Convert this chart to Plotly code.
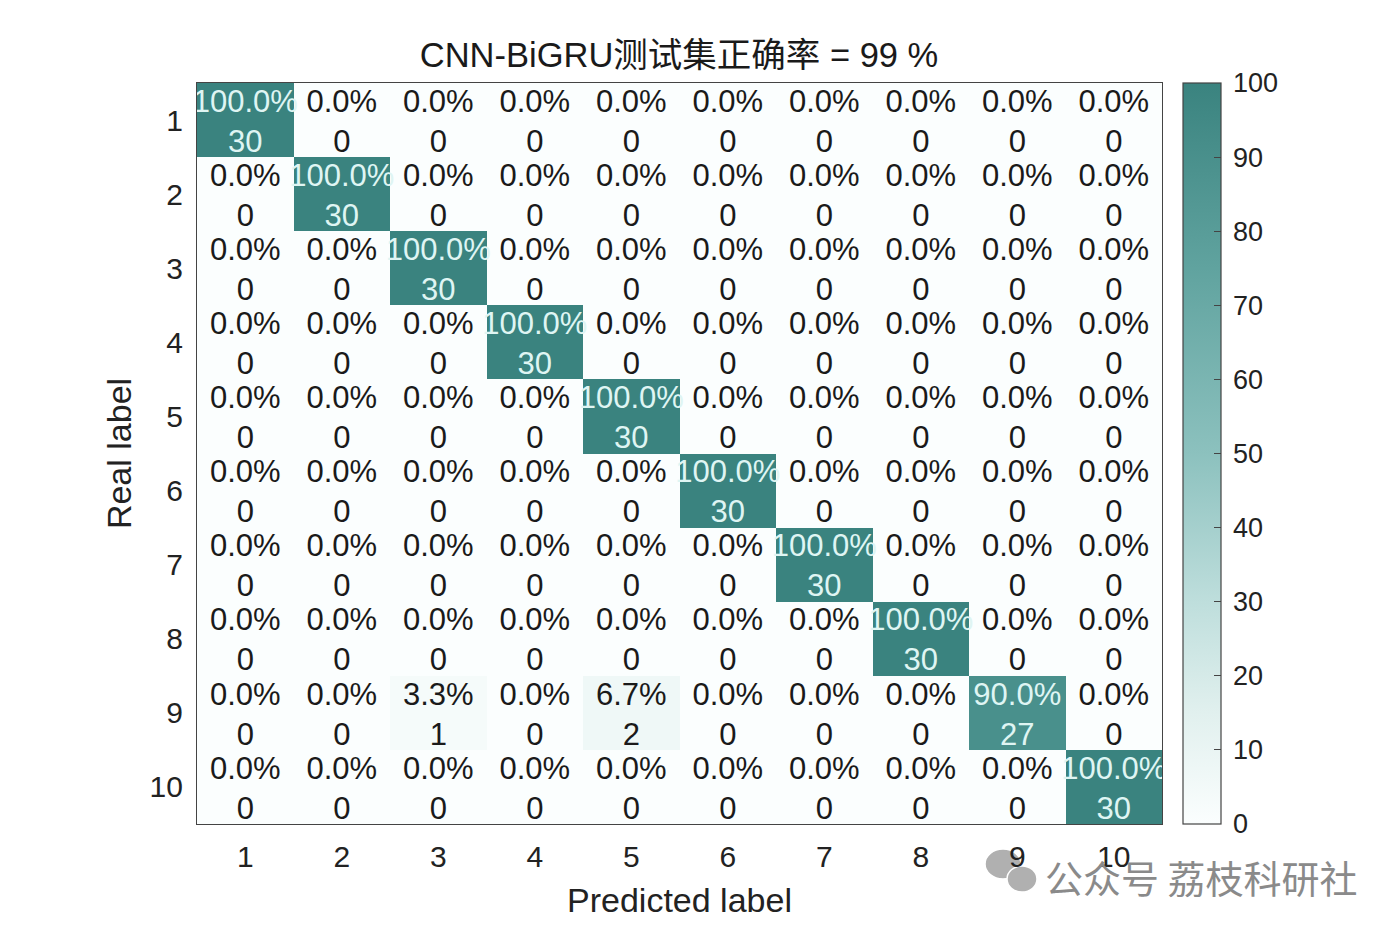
import plotly.graph_objects as go
import numpy as np

title = "CNN-BiGRU测试集正确率 = 99 %"
labels = [str(i) for i in range(1, 11)]
counts = [
    [30, 0, 0, 0, 0, 0, 0, 0, 0, 0],
    [0, 30, 0, 0, 0, 0, 0, 0, 0, 0],
    [0, 0, 30, 0, 0, 0, 0, 0, 0, 0],
    [0, 0, 0, 30, 0, 0, 0, 0, 0, 0],
    [0, 0, 0, 0, 30, 0, 0, 0, 0, 0],
    [0, 0, 0, 0, 0, 30, 0, 0, 0, 0],
    [0, 0, 0, 0, 0, 0, 30, 0, 0, 0],
    [0, 0, 0, 0, 0, 0, 0, 30, 0, 0],
    [0, 0, 1, 0, 2, 0, 0, 0, 27, 0],
    [0, 0, 0, 0, 0, 0, 0, 0, 0, 30],
]
cb_ticks = [0, 10, 20, 30, 40, 50, 60, 70, 80, 90, 100]

C = np.array(counts, dtype=float)
P = C / C.sum(axis=1, keepdims=True) * 100

colorscale = [
    [0.0, "rgb(251,254,254)"],
    [0.15, "rgb(225,240,238)"],
    [0.3, "rgb(190,222,220)"],
    [0.5, "rgb(140,193,190)"],
    [0.75, "rgb(96,163,159)"],
    [1.0, "rgb(58,131,127)"],
]

# page offset of 8px (body margin) taken into account
OFF = 8
L, R, T, B = 197 - OFF, 1394 - 1162 + OFF, 83 - OFF, 950 - 824 + OFF
PW, PH = 1162 - 197, 824 - 83

def px_x(x):
    return (x - 197) / PW

def px_y(y):
    return (824 - y) / PH

FONT = "Liberation Sans, Arial, Noto Sans CJK SC, sans-serif"
fig = go.Figure()
fig.add_trace(go.Heatmap(
    z=P, x=list(range(1, 11)), y=list(range(1, 11)),
    zmin=0, zmax=100, colorscale=colorscale, showscale=True, hoverinfo="skip",
    colorbar=dict(
        x=px_x(1183), xanchor="left", xpad=0, y=0.5, yanchor="middle", len=1.0, lenmode="fraction",
        thickness=38, thicknessmode="pixels", ypad=0,
        tickvals=cb_ticks, ticktext=["\u2009" + str(t) for t in cb_ticks],
        ticks="inside", ticklen=7, tickcolor="#444", outlinecolor="#444", outlinewidth=1.2,
        tickfont=dict(size=27, color="#222", family=FONT),
    ),
))

xs, ys, tp, tc, colp = [], [], [], [], []
for i in range(10):
    for j in range(10):
        xs.append(j + 1)
        ys.append(i + 1)
        tp.append(f"{P[i, j]:.1f}%")
        tc.append(f"{int(C[i, j])}")
        colp.append("#dff5f3" if P[i, j] > 50 else "#1a1a1a")

fig.add_trace(go.Scatter(x=xs, y=[y - 0.217 for y in ys], mode="text", text=tp,
                         textfont=dict(size=31, color=colp, family=FONT), hoverinfo="skip", showlegend=False))
fig.add_trace(go.Scatter(x=xs, y=[y + 0.323 for y in ys], mode="text", text=tc,
                         textfont=dict(size=31, color=colp, family=FONT), hoverinfo="skip", showlegend=False))

fig.update_layout(
    width=1394, height=950,
    margin=dict(l=L, r=R, t=T, b=B),
    paper_bgcolor="white", plot_bgcolor="white",
    title=dict(text=title, x=(679 - OFF) / 1394, xanchor="center", y=1 - (55 - OFF) / 950, yanchor="middle",
               font=dict(size=34.5, color="#1a1a1a", family=FONT)),
    xaxis=dict(range=[0.5, 10.5], tickvals=list(range(1, 11)), ticktext=labels, showgrid=False, zeroline=False,
               showline=True, linecolor="#444", linewidth=1.2, mirror=True, ticks="",
               tickfont=dict(size=30, color="#222", family=FONT), ticklabelstandoff=6,
               title=dict(text="Predicted label", font=dict(size=34, color="#222", family=FONT), standoff=16)),
    yaxis=dict(range=[10.5, 0.5], tickvals=list(range(1, 11)), ticktext=labels, showgrid=False, zeroline=False,
               showline=True, linecolor="#444", linewidth=1.2, mirror=True, ticks="",
               tickfont=dict(size=30, color="#222", family=FONT), ticklabelstandoff=7,
               title=dict(text="Real label", font=dict(size=34, color="#222", family=FONT), standoff=7)),
    showlegend=False,
)

# watermark
fig.add_annotation(xref="paper", yref="paper", x=px_x(1043), y=px_y(877),
                   xanchor="left", yanchor="middle", showarrow=False,
                   text="公众号 荔枝科研社", font=dict(size=38, color="#8a8a8a", family="Noto Sans CJK SC"))
for (cx, cy, rx, ry) in [(1003, 864, 18, 15), (1022, 879, 15, 13)]:
    fig.add_shape(type="circle", xref="paper", yref="paper", layer="below",
                  x0=px_x(cx - rx), x1=px_x(cx + rx), y0=px_y(cy + ry), y1=px_y(cy - ry),
                  fillcolor="#b0b0b0", line=dict(width=1.5, color="white"))

fig.write_html("out.html")
